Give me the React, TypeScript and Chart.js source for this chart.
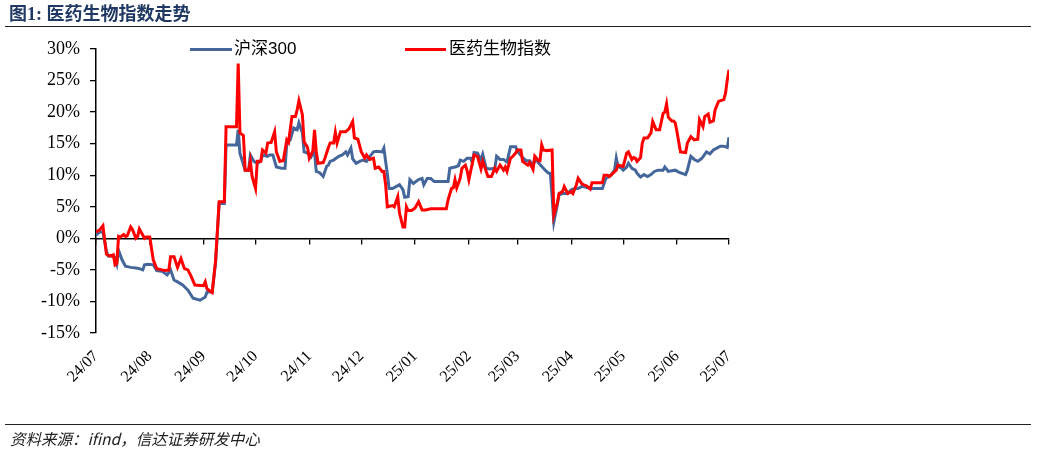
import React, { useEffect, useRef } from "react";
import { Chart, registerables } from "chart.js";

Chart.register(...registerables);

// Day offsets from 2024-07-01 for each month tick, and their labels
const monthTickDays = [0, 31, 62, 92, 123, 153, 184, 215, 243, 274, 304, 335, 365];
const monthTickLabels = [
  "24/07", "24/08", "24/09", "24/10", "24/11", "24/12",
  "25/01", "25/02", "25/03", "25/04", "25/05", "25/06", "25/07",
];

const seriesNames = ["沪深300", "医药生物指数"];

// [day offset from 2024-07-01, cumulative return %]
const hs300Series: [number, number][] = [
  [0, 0.5], [2, 1.0], [4, 1.0], [6, -2.0], [7, -2.8], [9, -2.8], [11, -3.0], [12, -4.0], [13, -1.9], [15, -3.4],
  [17, -4.4], [20, -4.6], [23, -4.7], [25, -4.8], [27, -5.0], [28, -4.2], [30, -4.1], [33, -4.2], [35, -5.1], [38, -5.2],
  [41, -5.8], [43, -5.0], [45, -6.6], [47, -6.9], [50, -7.4], [53, -8.2], [56, -9.5], [60, -9.8], [63, -9.3], [64, -8.5],
  [67, -8.5], [69, -3.7], [71, 5.5], [74, 5.5], [75, 14.8], [81, 14.8], [82, 17.2], [83, 13.5], [86, 10.8], [88, 10.8],
  [89, 13.2], [91, 12.2], [93, 11.9], [95, 12.2], [96, 13.2], [99, 13.0], [100, 13.2], [102, 13.2], [104, 11.3], [107, 11.1],
  [109, 11.1], [110, 15.1], [112, 15.6], [114, 17.5], [116, 17.2], [117, 18.3], [119, 16.7], [120, 13.7], [122, 13.5], [124, 12.9],
  [125, 13.5], [126, 13.7], [127, 10.6], [129, 10.4], [131, 9.8], [133, 11.4], [134, 11.6], [135, 12.2], [137, 12.4], [138, 12.6],
  [140, 13.0], [142, 13.2], [144, 13.7], [145, 13.2], [147, 14.3], [148, 12.6], [150, 11.9], [152, 12.2], [154, 12.4], [156, 12.2],
  [158, 13.0], [160, 13.7], [162, 13.8], [165, 13.7], [166, 14.3], [167, 12.2], [168, 10.2], [169, 7.9], [171, 7.9], [173, 8.2],
  [175, 8.5], [177, 7.7], [178, 6.5], [180, 6.6], [181, 9.3], [183, 8.7], [186, 9.3], [188, 9.5], [189, 8.5], [191, 9.5],
  [193, 9.5], [195, 9.0], [203, 9.0], [204, 11.1], [207, 11.3], [209, 11.5], [210, 12.4], [212, 12.2], [214, 12.7], [216, 12.7],
  [217, 12.0], [218, 13.6], [220, 13.5], [222, 12.4], [223, 13.3], [225, 11.1], [227, 11.0], [230, 11.1], [231, 13.0], [233, 12.5],
  [235, 12.5], [237, 12.1], [239, 14.5], [242, 14.5], [243, 13.8], [246, 12.8], [248, 12.3], [250, 12.3], [252, 11.7], [254, 12.6],
  [255, 12.0], [258, 11.1], [259, 10.8], [261, 10.3], [262, 10.3], [263, 6.5], [264, 2.6], [266, 5.3], [267, 6.9], [269, 7.1],
  [272, 7.1], [274, 7.7], [276, 7.9], [278, 7.9], [280, 8.2], [281, 8.2], [285, 7.9], [292, 7.9], [294, 9.5], [297, 10.0],
  [299, 10.8], [300, 12.7], [301, 11.4], [303, 11.1], [304, 10.8], [306, 11.3], [307, 11.9], [309, 11.1], [311, 10.8], [312, 10.3],
  [314, 9.7], [316, 10.1], [318, 9.8], [320, 10.1], [322, 10.6], [324, 10.8], [327, 10.8], [328, 11.3], [330, 10.6], [332, 10.7],
  [334, 10.8], [336, 10.5], [340, 10.1], [341, 10.8], [343, 13.0], [345, 12.5], [347, 12.2], [349, 12.6], [350, 12.9], [352, 13.7],
  [354, 13.4], [356, 14.0], [358, 14.3], [360, 14.6], [362, 14.6], [364, 14.4], [365, 16.0],
];

const pharmaSeries: [number, number][] = [
  [0, 1.0], [2, 1.3], [4, 2.0], [6, -2.5], [8, -2.8], [10, -2.6], [11, -4.2], [12, -4.0], [13, 0.3], [14, 0.2],
  [16, 0.6], [17, 0.3], [18, 0.4], [20, 1.8], [21, 1.4], [23, 0.0], [24, 0.3], [25, 1.5], [27, 0.5], [28, 0.0],
  [29, 0.2], [31, 0.2], [33, -3.4], [35, -4.8], [38, -5.0], [40, -5.1], [42, -5.0], [43, -2.9], [45, -2.9], [47, -4.6],
  [49, -3.2], [51, -4.8], [53, -5.0], [55, -6.1], [57, -7.4], [62, -7.5], [63, -6.9], [64, -8.0], [67, -8.6], [69, -3.4],
  [71, 5.8], [74, 5.8], [75, 17.7], [81, 17.7], [82, 27.7], [83, 16.7], [85, 16.3], [86, 10.8], [88, 10.8], [89, 12.2],
  [90, 9.8], [92, 7.9], [93, 12.2], [95, 12.2], [96, 14.0], [98, 13.5], [99, 15.1], [101, 15.2], [103, 16.9], [104, 13.7],
  [106, 12.2], [108, 12.3], [110, 15.6], [111, 15.2], [113, 19.3], [115, 19.3], [116, 20.4], [117, 21.8], [119, 19.6], [120, 15.3],
  [122, 14.4], [123, 12.7], [125, 13.8], [126, 17.2], [127, 13.8], [128, 11.9], [131, 12.0], [132, 12.7], [134, 14.4], [135, 15.1],
  [137, 15.1], [138, 16.8], [139, 15.1], [141, 16.9], [144, 16.9], [146, 17.4], [148, 18.5], [149, 15.9], [151, 15.7], [153, 13.7],
  [154, 13.2], [155, 12.7], [156, 13.2], [158, 12.5], [160, 12.7], [161, 11.1], [163, 11.3], [165, 10.6], [166, 10.6], [167, 8.5],
  [168, 5.0], [171, 5.2], [172, 5.0], [174, 6.6], [175, 4.0], [177, 1.8], [178, 1.8], [179, 5.0], [180, 4.4], [182, 4.4],
  [184, 4.8], [186, 5.8], [188, 4.5], [190, 4.5], [193, 4.7], [202, 4.7], [203, 6.1], [205, 7.9], [206, 8.0], [207, 9.3],
  [208, 8.0], [210, 9.5], [211, 11.1], [213, 11.6], [214, 10.7], [215, 9.3], [217, 11.9], [218, 13.2], [220, 13.0], [222, 11.0],
  [223, 12.2], [226, 9.8], [228, 9.8], [230, 11.1], [231, 10.6], [233, 11.6], [235, 10.8], [236, 11.3], [237, 10.6], [239, 12.7],
  [240, 12.9], [242, 13.5], [243, 14.0], [245, 14.0], [246, 12.2], [249, 11.6], [250, 12.0], [252, 10.9], [253, 13.0], [255, 12.3],
  [256, 12.3], [257, 14.8], [258, 14.0], [260, 13.9], [263, 14.0], [264, 3.7], [266, 5.6], [267, 7.1], [269, 7.4], [270, 8.2],
  [272, 7.1], [274, 7.4], [275, 7.1], [277, 8.5], [278, 9.5], [280, 8.7], [281, 8.5], [283, 8.3], [285, 7.8], [286, 8.8],
  [289, 8.8], [292, 8.8], [293, 10.0], [295, 10.0], [296, 9.8], [298, 10.3], [300, 10.8], [301, 11.6], [304, 11.4], [306, 13.5],
  [307, 13.7], [309, 12.5], [310, 12.8], [311, 12.7], [312, 12.2], [314, 12.8], [315, 15.1], [316, 15.9], [318, 15.9], [320, 16.7],
  [321, 18.5], [323, 17.2], [325, 17.2], [327, 19.8], [328, 20.0], [329, 21.3], [330, 19.2], [332, 18.6], [333, 18.6], [334, 18.3],
  [335, 16.9], [337, 13.7], [340, 13.6], [341, 15.1], [343, 16.1], [345, 15.6], [347, 15.7], [348, 18.8], [350, 17.7], [351, 19.3],
  [353, 19.7], [354, 18.4], [356, 18.6], [357, 20.4], [359, 21.7], [361, 21.9], [362, 22.0], [363, 23.0], [364, 25.1], [365, 26.7],
];

const BLUE = "#44669A";
const RED = "#FF0000";
const SERIF = '"Liberation Serif", "Times New Roman", serif';
const SANS = '"Liberation Sans", "Noto Sans CJK SC", sans-serif';

export default function App() {
  const canvasRef = useRef<HTMLCanvasElement | null>(null);

  useEffect(() => {
    if (!canvasRef.current) return;
    const setMonthTicks = (scale: any) => {
      scale.ticks = monthTickDays.map((v) => ({ value: v }));
    };
    const chart = new Chart(canvasRef.current, {
      type: "line",
      data: {
        datasets: [
          {
            label: seriesNames[1],
            data: pharmaSeries.map(([d, v]) => ({ x: d, y: v })),
            borderColor: RED,
            borderWidth: 3,
            pointRadius: 0,
            tension: 0,
            order: 0,
            xAxisID: "x",
            yAxisID: "y",
          },
          {
            label: seriesNames[0],
            data: hs300Series.map(([d, v]) => ({ x: d, y: v })),
            borderColor: BLUE,
            borderWidth: 3,
            pointRadius: 0,
            tension: 0,
            order: 1,
            xAxisID: "x",
            yAxisID: "y",
          },
        ],
      },
      options: {
        animation: false,
        responsive: true,
        maintainAspectRatio: false,
        events: [],
        layout: { padding: { top: 49, right: 308, left: 0, bottom: 0 } },
        plugins: { legend: { display: false }, tooltip: { enabled: false } },
        scales: {
          x: {
            type: "linear",
            position: { y: 0 } as any,
            min: 0,
            max: 365,
            afterBuildTicks: setMonthTicks,
            ticks: { display: false, autoSkip: false },
            grid: {
              display: true,
              drawOnChartArea: false,
              drawTicks: true,
              tickLength: 5,
              color: "#000",
              lineWidth: 1.3,
            },
            border: { display: true, color: "#000", width: 1.5 },
          },
          xl: {
            type: "linear",
            position: "bottom",
            min: 0,
            max: 365,
            afterBuildTicks: setMonthTicks,
            afterFit: (s: any) => {
              s.height = 121;
            },
            ticks: {
              autoSkip: false,
              minRotation: 45,
              maxRotation: 45,
              padding: 14,
              color: "#000",
              font: { family: SERIF, size: 16 },
              callback: (_v: any, i: number) => monthTickLabels[i],
            },
            grid: { display: false, drawTicks: false },
            border: { display: false },
          },
          y: {
            type: "linear",
            min: -15,
            max: 30,
            afterFit: (s: any) => {
              s.width = 96;
            },
            ticks: {
              stepSize: 5,
              padding: 10,
              color: "#000",
              font: { family: SERIF, size: 18 },
              callback: (v: any) => `${v}%`,
            },
            grid: {
              drawOnChartArea: false,
              drawTicks: true,
              tickLength: 6,
              color: "#000",
              lineWidth: 1.3,
            },
            border: { display: true, color: "#000", width: 1.5 },
          },
        },
      },
    });
    return () => chart.destroy();
  }, []);

  return (
    <div
      style={{
        position: "fixed",
        left: 0,
        top: 0,
        width: 1037,
        height: 454,
        background: "#fff",
        overflow: "hidden",
      }}
    >
      <div style={{ position: "absolute", left: 0, top: 0, width: 1037, height: 454 }}>
        <canvas ref={canvasRef} />
      </div>
      <div
        style={{
          position: "absolute",
          left: 9,
          top: 3,
          lineHeight: "22px",
          fontFamily: '"Liberation Serif", "Noto Sans CJK SC", serif',
          fontWeight: "bold",
          fontSize: 18,
          color: "#1F3864",
          whiteSpace: "nowrap",
        }}
      >
        图1: 医药生物指数走势
      </div>
      <div
        style={{
          position: "absolute",
          left: 5,
          top: 26,
          width: 1026,
          height: 0,
          borderTop: "1.5px solid #222",
        }}
      />
      {/* legend */}
      <div style={{ position: "absolute", left: 190, top: 47.5, width: 42, height: 3, background: BLUE }} />
      <div
        style={{
          position: "absolute",
          left: 234,
          top: 39,
          lineHeight: "20px",
          fontFamily: SANS,
          fontSize: 17,
          color: "#000",
          whiteSpace: "nowrap",
        }}
      >
        {seriesNames[0]}
      </div>
      <div style={{ position: "absolute", left: 405, top: 48, width: 41, height: 3, background: RED }} />
      <div
        style={{
          position: "absolute",
          left: 449,
          top: 39,
          lineHeight: "20px",
          fontFamily: SANS,
          fontSize: 17,
          color: "#000",
          whiteSpace: "nowrap",
        }}
      >
        {seriesNames[1]}
      </div>
      {/* footer */}
      <div
        style={{
          position: "absolute",
          left: 5,
          top: 424,
          width: 1026,
          height: 0,
          borderTop: "1.5px solid #222",
        }}
      />
      <div
        style={{
          position: "absolute",
          left: 10,
          top: 428,
          lineHeight: "20px",
          fontFamily: '"Noto Sans CJK SC", sans-serif',
          fontStyle: "italic",
          fontSize: 15.5,
          color: "#222",
          whiteSpace: "nowrap",
        }}
      >
        资料来源：ifind，信达证券研发中心
      </div>
    </div>
  );
}
